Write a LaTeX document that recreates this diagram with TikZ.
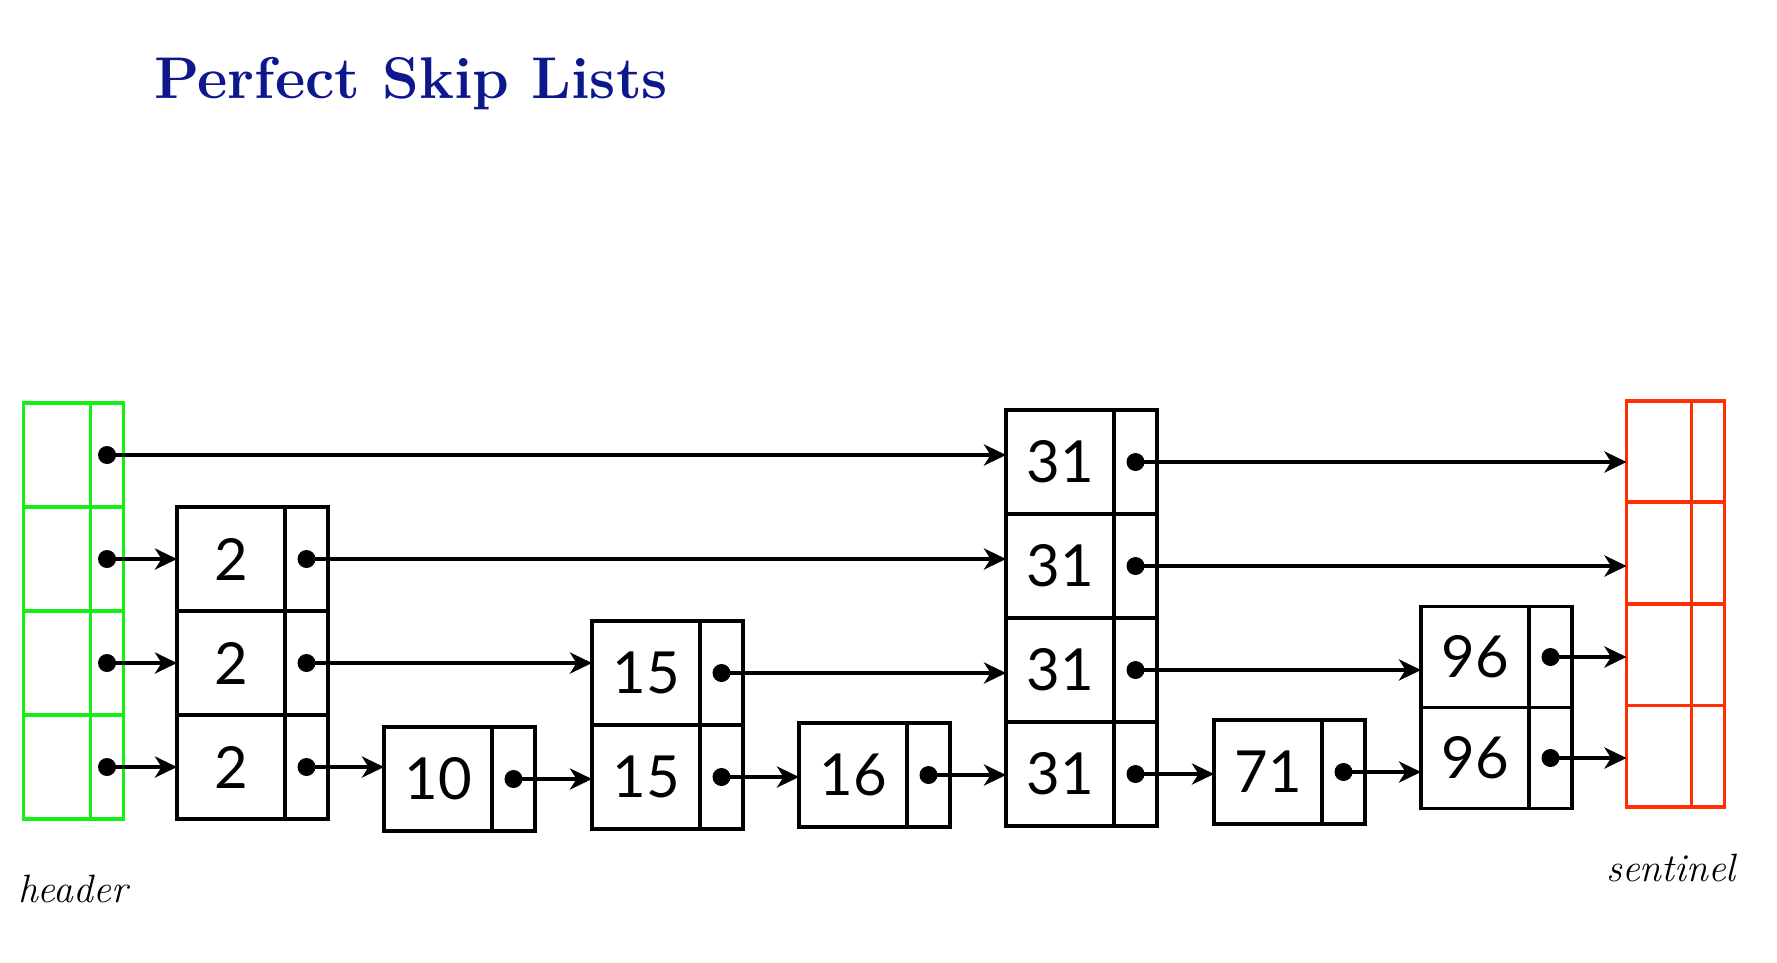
\documentclass[tikz,border=0pt]{standalone}
\usepackage{fontspec}
\newfontfamily\keyfont{Lato}
\usetikzlibrary{positioning,arrows.meta}
\definecolor{hdrgreen}{RGB}{20,240,20}
\definecolor{sntred}{RGB}{255,45,0}
\definecolor{titleblue}{RGB}{12,24,140}
\begin{document}
\begin{tikzpicture}[x=0.2mm,y=-0.2mm,
    cell/.style={draw,line width=2pt,minimum height=20.8mm,inner sep=0pt,outer sep=0pt},
    keycell/.style={cell,minimum width=21.6mm,font=\keyfont\fontsize{33}{33}\selectfont},
    ptrcell/.style={cell,minimum width=8.6mm},
    hdrkey/.style={cell,draw=hdrgreen,minimum width=13.4mm},
    hdrptr/.style={cell,draw=hdrgreen,minimum width=6.6mm},
    sntkey/.style={cell,draw=sntred,minimum width=13mm,minimum height=20.3mm},
    sntptr/.style={cell,draw=sntred,minimum width=6.6mm,minimum height=20.3mm},
    link/.style={line width=2.5pt,-{Stealth[length=4.4mm,width=4.2mm,inset=1.3mm]}}]
    \useasboundingbox (0,0) rectangle (1777,962);

    \node[anchor=base west,text=titleblue,font=\bfseries\fontsize{33.5}{36}\selectfont] (title) at (148,98) {Perfect Skip Lists};

    % header
    \node[hdrkey] (hk1) at (57,767) {};
    \node[hdrptr,right=0pt of hk1] (hp1) {};
    \node[hdrkey,above=0pt of hk1] (hk2) {};
    \node[hdrptr,right=0pt of hk2] (hp2) {};
    \node[hdrkey,above=0pt of hk2] (hk3) {};
    \node[hdrptr,right=0pt of hk3] (hp3) {};
    \node[hdrkey,above=0pt of hk3] (hk4) {};
    \node[hdrptr,right=0pt of hk4] (hp4) {};
    \node[anchor=base west,font=\itshape\fontsize{22.5}{25}\selectfont] (hlabel) at (12,902) {header};

    % 2
    \node[keycell] (k2x1) at (231,767) {2};
    \node[ptrcell,right=0pt of k2x1] (p2x1) {};
    \node[keycell,above=0pt of k2x1] (k2x2) {2};
    \node[ptrcell,right=0pt of k2x2] (p2x2) {};
    \node[keycell,above=0pt of k2x2] (k2x3) {2};
    \node[ptrcell,right=0pt of k2x3] (p2x3) {};

    % 10
    \node[keycell] (k10x1) at (438,779) {10};
    \node[ptrcell,right=0pt of k10x1] (p10x1) {};

    % 15
    \node[keycell] (k15x1) at (646,777) {15};
    \node[ptrcell,right=0pt of k15x1] (p15x1) {};
    \node[keycell,above=0pt of k15x1] (k15x2) {15};
    \node[ptrcell,right=0pt of k15x2] (p15x2) {};

    % 16
    \node[keycell] (k16x1) at (853,775) {16};
    \node[ptrcell,right=0pt of k16x1] (p16x1) {};

    % 31
    \node[keycell] (k31x1) at (1060,774) {31};
    \node[ptrcell,right=0pt of k31x1] (p31x1) {};
    \node[keycell,above=0pt of k31x1] (k31x2) {31};
    \node[ptrcell,right=0pt of k31x2] (p31x2) {};
    \node[keycell,above=0pt of k31x2] (k31x3) {31};
    \node[ptrcell,right=0pt of k31x3] (p31x3) {};
    \node[keycell,above=0pt of k31x3] (k31x4) {31};
    \node[ptrcell,right=0pt of k31x4] (p31x4) {};

    % 71
    \node[keycell] (k71x1) at (1268,772) {71};
    \node[ptrcell,right=0pt of k71x1] (p71x1) {};

    % 96
    \node[keycell,minimum height=20.2mm] (k96x1) at (1475,758) {96};
    \node[ptrcell,minimum height=20.2mm,right=0pt of k96x1] (p96x1) {};
    \node[keycell,minimum height=20.2mm,above=0pt of k96x1] (k96x2) {96};
    \node[ptrcell,minimum height=20.2mm,right=0pt of k96x2] (p96x2) {};

    % sentinel
    \node[sntkey] (sk1) at (1659,756) {};
    \node[sntptr,right=0pt of sk1] (sp1) {};
    \node[sntkey,above=0pt of sk1] (sk2) {};
    \node[sntptr,right=0pt of sk2] (sp2) {};
    \node[sntkey,above=0pt of sk2] (sk3) {};
    \node[sntptr,right=0pt of sk3] (sp3) {};
    \node[sntkey,above=0pt of sk3] (sk4) {};
    \node[sntptr,right=0pt of sk4] (sp4) {};
    \node[anchor=base west,font=\itshape\fontsize{22.5}{25}\selectfont] (slabel) at (1600,881) {sentinel};

    % pointers
    \fill (hp1) circle[radius=1.8mm];
    \fill (hp2) circle[radius=1.8mm];
    \fill (hp3) circle[radius=1.8mm];
    \fill (hp4) circle[radius=1.8mm];
    \fill (p2x1) circle[radius=1.8mm];
    \fill (p2x2) circle[radius=1.8mm];
    \fill (p2x3) circle[radius=1.8mm];
    \fill (p10x1) circle[radius=1.8mm];
    \fill (p15x1) circle[radius=1.8mm];
    \fill (p15x2) circle[radius=1.8mm];
    \fill (p16x1) circle[radius=1.8mm];
    \fill (p31x1) circle[radius=1.8mm];
    \fill (p31x2) circle[radius=1.8mm];
    \fill (p31x3) circle[radius=1.8mm];
    \fill (p31x4) circle[radius=1.8mm];
    \fill (p71x1) circle[radius=1.8mm];
    \fill (p96x1) circle[radius=1.8mm];
    \fill (p96x2) circle[radius=1.8mm];

    \draw[link] (hp1.center) -- (hp1.center -| k2x1.west);
    \draw[link] (p2x1.center) -- (p2x1.center -| k10x1.west);
    \draw[link] (p10x1.center) -- (p10x1.center -| k15x1.west);
    \draw[link] (p15x1.center) -- (p15x1.center -| k16x1.west);
    \draw[link] (p16x1.center) -- (p16x1.center -| k31x1.west);
    \draw[link] (p31x1.center) -- (p31x1.center -| k71x1.west);
    \draw[link] (p71x1.center) -- (p71x1.center -| k96x1.west);
    \draw[link] (p96x1.center) -- (p96x1.center -| sk1.west);

    \draw[link] (hp2.center) -- (hp2.center -| k2x2.west);
    \draw[link] (p2x2.center) -- (p2x2.center -| k15x2.west);
    \draw[link] (p15x2.center) -- (p15x2.center -| k31x2.west);
    \draw[link] (p31x2.center) -- (p31x2.center -| k96x2.west);
    \draw[link] (p96x2.center) -- (p96x2.center -| sk2.west);

    \draw[link] (hp3.center) -- (hp3.center -| k2x3.west);
    \draw[link] (p2x3.center) -- (p2x3.center -| k31x3.west);
    \draw[link] (p31x3.center) -- (p31x3.center -| sk3.west);

    \draw[link] (hp4.center) -- (hp4.center -| k31x4.west);
    \draw[link] (p31x4.center) -- (p31x4.center -| sk4.west);
\end{tikzpicture}
\end{document}
